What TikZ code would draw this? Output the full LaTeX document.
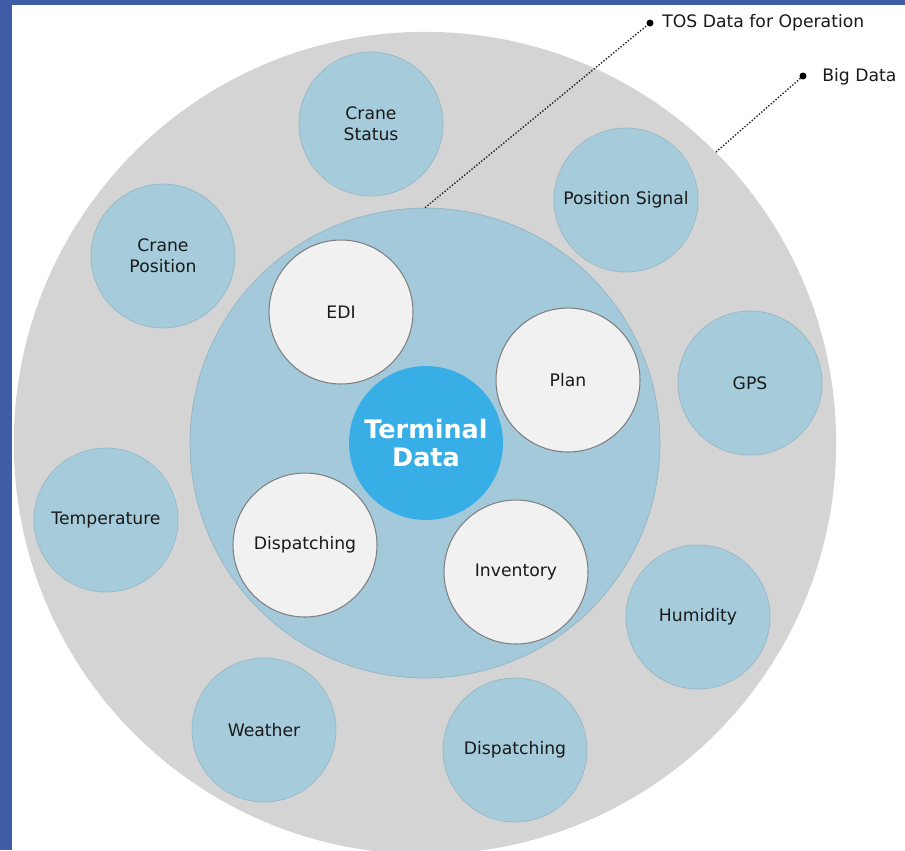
\documentclass[tikz,border=0pt]{standalone}
\usepackage{fontspec}
\setmainfont{DejaVu Sans}
\definecolor{frameblue}{HTML}{3F5DA6}
\definecolor{biggray}{HTML}{D4D4D4}
\definecolor{paleblue}{HTML}{A6CCDC}
\definecolor{tosblue}{HTML}{A3C9DA}
\definecolor{coreblue}{HTML}{38AEE6}
\definecolor{chipwhite}{HTML}{F1F1F1}
\definecolor{labelink}{HTML}{1A1A1A}
\tikzset{
  ring/.style={circle, inner sep=0pt},
  source/.style={ring, fill=paleblue, draw=paleblue!90!black, line width=0.4pt,
    minimum size=2.88cm, align=center, font=\fontsize{9.8}{12}\selectfont, text=labelink},
  tosdata/.style={ring, fill=chipwhite, draw=gray, line width=0.6pt,
    minimum size=2.88cm, align=center, font=\fontsize{9.8}{12}\selectfont, text=labelink},
  leader/.style={densely dotted, line width=0.8pt, black!85},
  tag/.style={anchor=west, font=\fontsize{9.8}{12}\selectfont, text=labelink, inner sep=0pt}
}
\begin{document}
\begin{tikzpicture}[x=0.02cm, y=-0.02cm]
  \fill[frameblue] (0, 0) rectangle (905, 850);
  \fill[white] (12, 5) rectangle (905, 850);
  \useasboundingbox (0, 0) rectangle (905, 850);

  \begin{scope}
    \clip (12, 5) rectangle (905, 850);
    \node[ring, fill=biggray, minimum size=16.45cm] (big) at (425, 443) {};
  \end{scope}

  \node[ring, fill=tosblue, draw=tosblue!90!black, line width=0.4pt, minimum size=9.4cm] (tos) at (425, 443) {};

  \node[ring, fill=coreblue, minimum size=3.08cm, align=center, text=white,
    font=\fontsize{14.5}{16}\selectfont\bfseries] (core) at (426, 443) {Terminal\\Data};

  \node[tosdata] (edi) at (341, 312) {EDI};
  \node[tosdata] (plan) at (568, 380) {Plan};
  \node[tosdata] (dispin) at (305, 545) {Dispatching};
  \node[tosdata] (inventory) at (516, 572) {Inventory};

  \node[source] (cranestatus) at (371, 124) {Crane\\Status};
  \node[source] (craneposition) at (163, 256) {Crane\\Position};
  \node[source] (possignal) at (626, 200) {Position Signal};
  \node[source] (gps) at (750, 383) {GPS};
  \node[source] (temperature) at (106, 520) {Temperature};
  \node[source] (humidity) at (698, 617) {Humidity};
  \node[source] (weather) at (264, 730) {Weather};
  \node[source] (dispout) at (515, 750) {Dispatching};

  \coordinate (tosdot) at (650, 23);
  \coordinate (bigdot) at (803, 76);
  \draw[leader] (tos.north) -- (tosdot);
  \draw[leader] (big.45) -- (bigdot);
  \fill[black] (tosdot) circle (0.07cm);
  \fill[black] (bigdot) circle (0.07cm);
  \node[tag] (tostag) at (662, 23) {TOS Data for Operation};
  \node[tag] (bigtag) at (822, 77) {Big Data};
\end{tikzpicture}
\end{document}
